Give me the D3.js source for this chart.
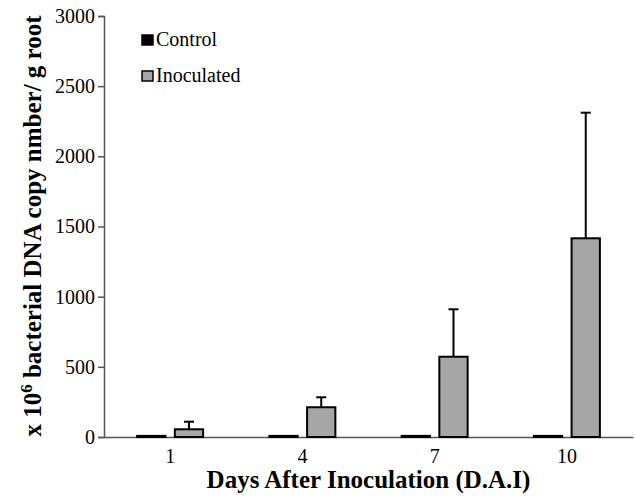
<!DOCTYPE html>
<html>
<head>
<meta charset="utf-8">
<script src="https://cdn.jsdelivr.net/npm/d3@7"></script>
<style>
  body { margin: 0; background: #fff; overflow: hidden; }
  svg { display: block; }
</style>
</head>
<body>
<div id="chart"></div>
<script>
// data
const days = ["1", "4", "7", "10"];
const seriesNames = ["Control", "Inoculated"];
const controlMean = [8, 8, 8, 8];
const inoculatedMean = [55, 212, 572, 1416];
const inoculatedErr = [54, 71, 338, 895];
const yTicks = [0, 500, 1000, 1500, 2000, 2500, 3000];

const serif = "'Liberation Serif', 'Times New Roman', 'DejaVu Serif', serif";

let margin = { top: 16, left: 104, right: 3, bottom: 63 };
let width = 636, height = 500;
let innerWidth = width - margin.left - margin.right;
let innerHeight = height - margin.top - margin.bottom;

let color = d3.scaleOrdinal().domain(seriesNames).range(["#000000", "#a6a6a6"]);

let x = d3.scaleBand().domain(days).range([0, innerWidth]).padding(0);
let xInner = d3.scaleBand().domain(seriesNames).range([-33, 33]).paddingInner(0.25).paddingOuter(0);
let y = d3.scaleLinear().domain([0, 3000]).range([innerHeight, 0]);

let rows = days.map((d, i) => ({
  day: d,
  values: [
    { key: "Control", value: controlMean[i], err: 0 },
    { key: "Inoculated", value: inoculatedMean[i], err: inoculatedErr[i] }
  ]
}));

let svg = d3.select("#chart").append("svg")
  .attr("width", width)
  .attr("height", height);

let g = svg.append("g")
  .attr("transform", "translate(" + margin.left + "," + margin.top + ")");

// y axis
let yAxis = d3.axisLeft(y).tickValues(yTicks).tickFormat(d3.format("d")).tickSize(6).tickPadding(3);
let yG = g.append("g").attr("class", "y-axis").call(yAxis)
  .attr("font-family", serif).attr("font-size", 20);
yG.select(".domain").attr("stroke", "#555").attr("stroke-width", 1.5);
yG.selectAll(".tick line").attr("stroke", "#555").attr("stroke-width", 1.5);
yG.selectAll(".tick text").attr("fill", "#000");

// x axis, no tick marks
let xAxis = d3.axisBottom(x).tickSize(0).tickPadding(12);
let xG = g.append("g").attr("class", "x-axis")
  .attr("transform", "translate(0," + innerHeight + ")")
  .call(xAxis)
  .attr("font-family", serif).attr("font-size", 20);
xG.select(".domain").attr("stroke", "#555").attr("stroke-width", 1.5);
xG.selectAll(".tick text").attr("fill", "#000");

// bars
let groups = g.selectAll(".day")
  .data(rows)
  .enter().append("g")
  .attr("class", "day")
  .attr("transform", d => "translate(" + (x(d.day) + x.bandwidth() / 2) + ",0)");

let bars = groups.selectAll(".bar")
  .data(d => d.values)
  .enter();

// error bars (upper only)
bars.filter(d => d.err > 0).append("line")
  .attr("x1", d => xInner(d.key) + xInner.bandwidth() / 2)
  .attr("x2", d => xInner(d.key) + xInner.bandwidth() / 2)
  .attr("y1", d => y(d.value))
  .attr("y2", d => y(d.value + d.err))
  .attr("stroke", "#000")
  .attr("stroke-width", 2);

bars.filter(d => d.err > 0).append("line")
  .attr("x1", d => xInner(d.key) + xInner.bandwidth() / 2 - 5)
  .attr("x2", d => xInner(d.key) + xInner.bandwidth() / 2 + 5)
  .attr("y1", d => y(d.value + d.err))
  .attr("y2", d => y(d.value + d.err))
  .attr("stroke", "#000")
  .attr("stroke-width", 2);

bars.append("rect")
  .attr("class", "bar")
  .attr("x", d => xInner(d.key))
  .attr("width", xInner.bandwidth())
  .attr("y", d => y(d.value))
  .attr("height", d => y(0) - y(d.value))
  .attr("fill", d => color(d.key))
  .attr("stroke", "#000")
  .attr("stroke-width", 2);

// legend
let legend = g.selectAll(".legend")
  .data(seriesNames)
  .enter().append("g")
  .attr("class", "legend")
  .attr("transform", (d, i) => "translate(38," + (19 + i * 36) + ")");

legend.append("rect")
  .attr("width", 11)
  .attr("height", 10)
  .attr("fill", d => color(d))
  .attr("stroke", "#000")
  .attr("stroke-width", 1.5);

legend.append("text")
  .attr("x", 14)
  .attr("y", 11)
  .style("font-family", serif)
  .style("font-size", "20px")
  .text(d => d);

// axis titles
svg.append("text")
  .attr("x", margin.left + innerWidth / 2)
  .attr("y", 488)
  .attr("text-anchor", "middle")
  .style("font-family", serif)
  .style("font-size", "25px")
  .style("font-weight", "bold")
  .text("Days After Inoculation (D.A.I)");

let yTitle = svg.append("text")
  .attr("transform", "translate(41,226) rotate(-90)")
  .attr("text-anchor", "middle")
  .style("font-family", serif)
  .style("font-size", "25px")
  .style("font-weight", "bold");
yTitle.append("tspan").text("x 10");
yTitle.append("tspan").attr("dy", -9).style("font-size", "17px").text("6");
yTitle.append("tspan").attr("dy", 9).text(" bacterial DNA copy nmber/ g root");
</script>
</body>
</html>
